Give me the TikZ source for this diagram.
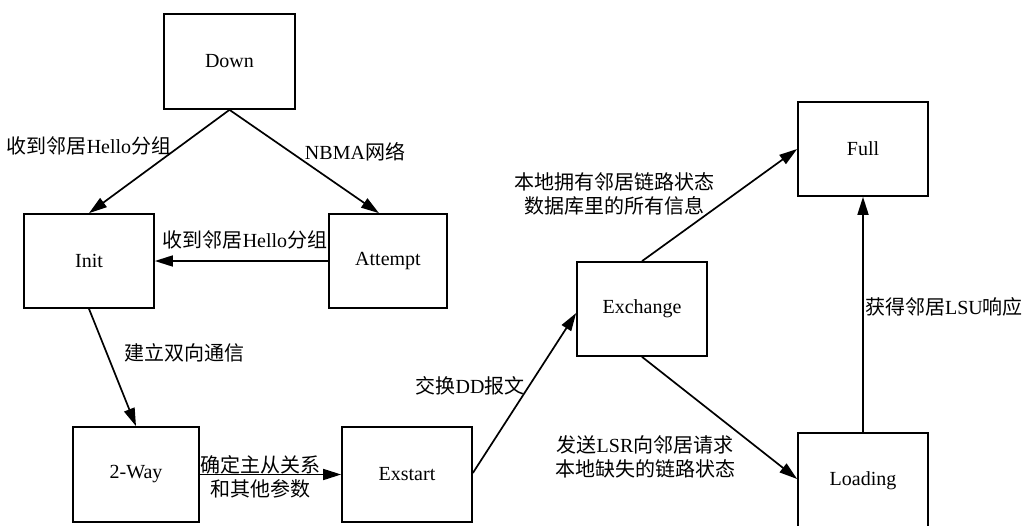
\documentclass[tikz,border=0pt]{standalone}
\usepackage{fontspec}
\setmainfont{Liberation Serif}
\newfontfamily\cjk{Noto Sans CJK SC}
\newcommand\zh[1]{{\cjk #1}}
\usetikzlibrary{arrows.meta}
\begin{document}
\begin{tikzpicture}[x=1pt,y=-1pt,
  font=\fontsize{20}{24}\selectfont,
  box/.style={draw, line width=1.7pt, minimum width=130pt, minimum height=94pt, inner sep=0pt},
  arr/.style={line width=1.7pt, -{Triangle[length=18pt,width=11pt]}},
  lbl/.style={inner sep=0pt, align=center}]
\clip (0,0) rectangle (1023,525);
\useasboundingbox (0,0) rectangle (1023,525);
% states
\node[box, minimum width=131pt, minimum height=95pt] (down) at (229.5,61.5) {Down};
\node[box] (init) at (89,261) {Init};
\node[box, minimum width=118pt] (attempt) at (388,261) {Attempt};
\node[box, minimum width=126pt, minimum height=95pt] (twoway) at (136,474.5) {2-Way};
\node[box, minimum height=95pt] (exstart) at (407,474.5) {Exstart};
\node[box] (exchange) at (642,309) {Exchange};
\node[box] (full) at (863,149) {Full};
\node[box, minimum height=96pt] (loading) at (863,481) {Loading};
% transitions
\draw[arr] (down.south) -- (init.north);
\draw[arr] (down.south) -- ([xshift=-9pt]attempt.north);
\draw[arr] (attempt.west) -- (init.east);
\draw[arr] (init.south) -- (twoway.north);
\draw[arr] (twoway.east) -- (exstart.west);
\draw[arr] ([yshift=1.5pt]exstart.east) -- ([yshift=-4pt]exchange.west);
\draw[arr] (exchange.north) -- (full.west);
\draw[arr] (exchange.south) -- ([yshift=2pt]loading.west);
\draw[arr] (loading.north) -- (full.south);
% labels
\node[lbl] (l1) at (89,146) {\zh{收到邻居}Hello\zh{分组}};
\node[lbl] (l2) at (355,152) {NBMA\zh{网络}};
\node[lbl] (l3) at (245,240) {\zh{收到邻居}Hello\zh{分组}};
\node[lbl] (l4) at (184,353) {\zh{建立双向通信}};
\node[lbl] (l5) at (260,476.5) {\zh{确定主从关系}\\\zh{和其他参数}};
\node[lbl] (l6) at (470,386) {\zh{交换}DD\zh{报文}};
\node[lbl] (l7) at (614,194) {\zh{本地拥有邻居链路状态}\\\zh{数据库里的所有信息}};
\node[lbl] (l8) at (645,456.5) {\zh{发送}LSR\zh{向邻居请求}\\\zh{本地缺失的链路状态}};
\node[lbl] (l9) at (944,307) {\zh{获得邻居}LSU\zh{响应}};
\end{tikzpicture}
\end{document}
